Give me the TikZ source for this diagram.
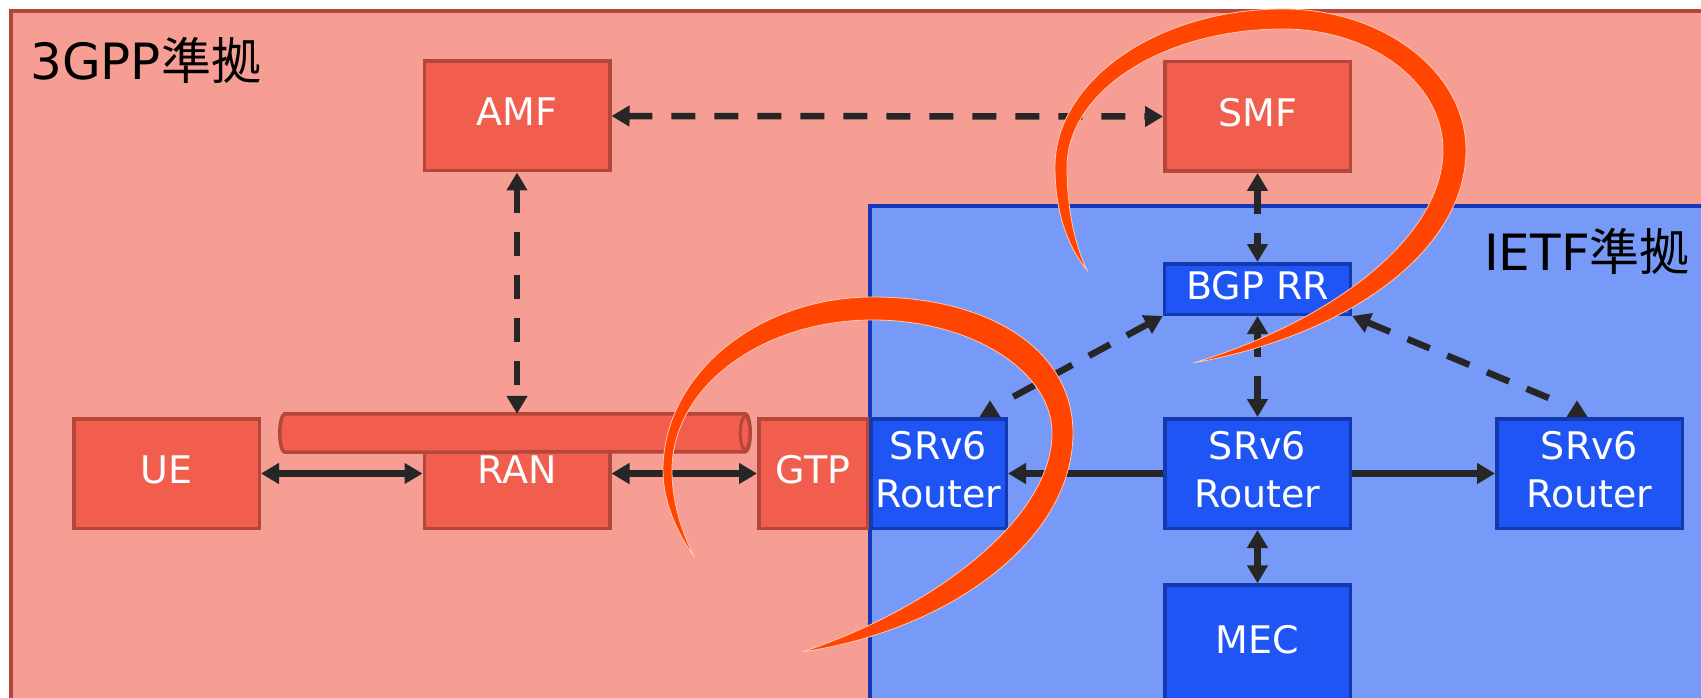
\documentclass[tikz,border=0pt]{standalone}
\usepackage{fontspec}
\setmainfont{DejaVu Sans}
\newfontfamily\cjkfont{Noto Sans CJK JP}
\usetikzlibrary{arrows.meta,calc}

\definecolor{zonePink}{HTML}{F79E94}
\definecolor{zonePinkEdge}{HTML}{B5473A}
\definecolor{nfFill}{HTML}{F25E4E}
\definecolor{nfEdge}{HTML}{B5473A}
\definecolor{zoneBlue}{HTML}{7799F7}
\definecolor{zoneBlueEdge}{HTML}{1538B8}
\definecolor{rtFill}{HTML}{1F54F5}
\definecolor{rtEdge}{HTML}{1239B0}
\definecolor{swooshCol}{HTML}{FF4500}
\definecolor{wire}{HTML}{262626}

% extra depth under a label so that it sits slightly above the box centre
\newcommand{\liftlabel}{\rule[-8pt]{0pt}{8pt}}

\begin{document}
\begin{tikzpicture}[x=1pt, y=-1pt,
  >={Triangle[length=18pt,width=20pt]},
  nf/.style={draw=nfEdge, fill=nfFill, line width=3.5pt, text=white,
    font=\fontsize{38}{48}\selectfont, align=center, inner sep=0pt},
  rt/.style={nf, draw=rtEdge, fill=rtFill},
  bigbox/.style={minimum width=185.5pt, minimum height=109.5pt},
  link/.style={draw=wire, line width=7pt},
  dashlink/.style={draw=wire, line width=6.5pt, dash pattern=on 24pt off 19pt},
  zonetitle/.style={font=\fontsize{50}{60}\selectfont, inner sep=0pt, text=black},
  swoosh/.style={fill=swooshCol, draw=white!70!swooshCol, line width=0.8pt},
]
\useasboundingbox (0,0) rectangle (1701,698);
\clip (0,0) rectangle (1701,698);

% zones
\fill[white] (0,0) rectangle (1701,698);
\path[fill=zonePink, draw=zonePinkEdge, line width=4pt] (11,11) rectangle (1730,730);
\path[fill=zoneBlue, draw=zoneBlueEdge, line width=4pt] (869.5,205.5) rectangle (1730,730);

\node[zonetitle, anchor=base west] (t3gpp) at (30,80) {3GPP{\cjkfont 準拠}};
\node[zonetitle, anchor=base east] (tietf) at (1690,270) {IETF{\cjkfont 準拠}};

% 3GPP functions
\node[nf, bigbox] (amf) at (517,116) {AMF\liftlabel};
\node[nf, bigbox] (smf) at (1257.5,116.5) {SMF\liftlabel};
\node[nf, bigbox] (ue)  at (166.5,473.5) {UE\liftlabel};
\node[nf, bigbox] (ran) at (517,473.5) {RAN\liftlabel};
\node[nf, minimum width=108.5pt, minimum height=109.5pt] (gtp) at (813,473.5) {GTP\liftlabel};

% tunnel over the RAN
\node[minimum width=470pt, minimum height=38pt, inner sep=0pt] (tube) at (515,433) {};
\path[fill=nfFill, draw=nfEdge, line width=3.5pt]
  ([xshift=5pt]tube.north west) -- ([xshift=-5pt]tube.north east)
  arc[start angle=-90, end angle=90, x radius=5, y radius=19]
  -- ([xshift=5pt]tube.south west)
  arc[start angle=90, end angle=270, x radius=5, y radius=19] -- cycle;
\draw[draw=nfEdge, line width=3pt] ([xshift=-5pt]tube.east) ellipse [x radius=5, y radius=16.5];

% IETF side
\node[rt, minimum width=186pt, minimum height=50.5pt] (bgp) at (1257.5,289) {BGP RR\liftlabel};
\node[rt, minimum width=135.5pt, minimum height=109.5pt] (srl) at (938.5,473.5) {SRv6\\Router\liftlabel};
\node[rt, bigbox] (srm) at (1257.5,473.5) {SRv6\\Router\liftlabel};
\node[rt, bigbox] (srr) at (1589.5,473.5) {SRv6\\Router\liftlabel};
\node[rt, minimum width=185.5pt, minimum height=116pt] (mec) at (1257.5,643) {MEC\liftlabel};

% solid links
\draw[link, <->] (ue.east) -- (ran.west);
\draw[link, <->] (ran.east) -- (gtp.west);
\draw[link, ->] (srm.west) -- (srl.east);
\draw[link, ->] (srm.east) -- (srr.west);
\draw[link, <->] (srm.south) -- (mec.north);

% control-plane links
\draw[dashlink, <->] (amf.east) -- (smf.west);
\draw[dashlink, <->] (amf.south) -- (amf.south |- tube.north);
\draw[dashlink, <->] (smf.south) -- (bgp.north);
\draw[dashlink, <->] (bgp.south) -- (srm.north);

\coordinate (dl) at ([xshift=71.5pt, yshift=18.5pt]srl.north);
\coordinate (dr) at ([xshift=-27.5pt, yshift=13.5pt]srr.north);
\draw[dashlink, <-] (bgp.south west) -- (dl);
\draw[dashlink, <-] (bgp.south east) -- (dr);
\fill[wire] ([xshift=41pt]srl.north) -- ++(10.5,-16.5) -- ++(10.5,16.5) -- cycle;
\fill[wire] ([xshift=-23pt]srr.north) -- ++(10.5,-16.5) -- ++(10.5,16.5) -- cycle;

% swoosh round the control plane (SMF / BGP RR)
\path[swoosh]
  (1087,270) .. controls (1062,240) and (1055,200) .. (1055,167)
  .. controls (1055,80) and (1158,9) .. (1283,9)
  .. controls (1384,9) and (1466,72) .. (1466,150)
  .. controls (1466,250) and (1350,335) .. (1193,363)
  .. controls (1330,322) and (1443,238) .. (1443,150)
  .. controls (1443,83) and (1371,29) .. (1283,29)
  .. controls (1164,29) and (1067,91) .. (1067,167)
  .. controls (1067,210) and (1075,245) .. (1087,270) -- cycle;

% swoosh round the GTP / SRv6 boundary
\path[swoosh]
  (695,558) .. controls (675,530) and (663,500) .. (663,470)
  .. controls (663,375) and (757,297) .. (873,297)
  .. controls (990,297) and (1073,350) .. (1073,433)
  .. controls (1073,540) and (950,630) .. (802,652)
  .. controls (930,610) and (1052,520) .. (1052,433)
  .. controls (1052,371) and (971,320) .. (873,320)
  .. controls (762,320) and (672,387) .. (672,470)
  .. controls (672,505) and (683,535) .. (695,558) -- cycle;
\end{tikzpicture}
\end{document}
